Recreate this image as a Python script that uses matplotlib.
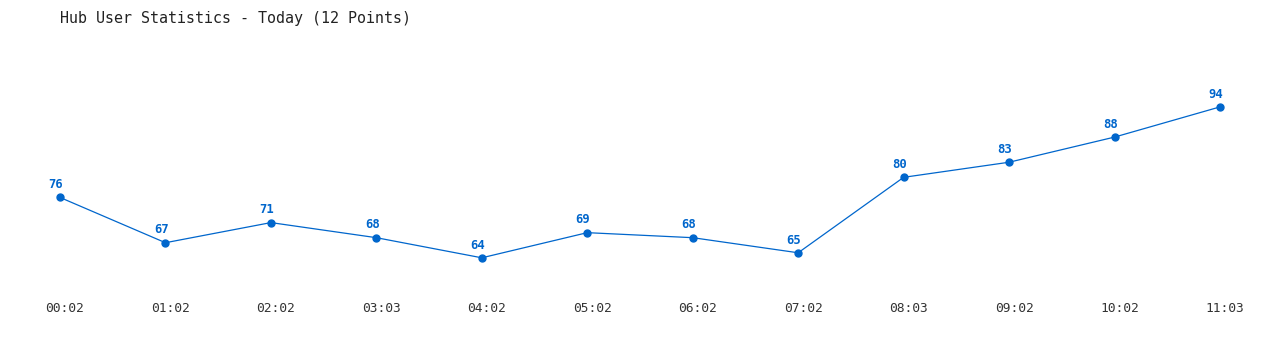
import matplotlib
matplotlib.use("Agg")
import matplotlib.pyplot as plt
import matplotlib.transforms as mtransforms

times = ["00:02", "01:02", "02:02", "03:03", "04:02", "05:02",
         "06:02", "07:02", "08:03", "09:02", "10:02", "11:03"]
users = [76, 67, 71, 68, 64, 69, 68, 65, 80, 83, 88, 94]

W, H = 1280, 350
fig = plt.figure(figsize=(W / 100, H / 100), dpi=100)
ax = fig.add_axes([60 / W, (H - 290) / H, (1220 - 60) / W, 250 / H])

blue = "#0066cc"
x = list(range(len(users)))
ax.plot(x, users, color=blue, linewidth=0.9, marker="o", markersize=5, clip_on=False)
for xi, v in zip(x, users):
    ax.annotate(str(v), (xi, v), xytext=(-3, 4.5), textcoords="offset points",
                ha="center", va="bottom", color=blue, fontsize=8.8,
                fontweight="bold", family="DejaVu Sans Mono")

ax.set_xlim(0, 11)
ax.set_ylim(57.6, 107.3)
ax.set_xticks(x)
ax.set_xticklabels(times, family="DejaVu Sans Mono", fontsize=9.3, color="#333333")
ax.tick_params(axis="x", length=0, pad=9)
ax.set_yticks([])
for s in ax.spines.values():
    s.set_visible(False)
shift = mtransforms.ScaledTranslation(5 / 100, 0, fig.dpi_scale_trans)
for lbl in ax.get_xticklabels():
    lbl.set_transform(lbl.get_transform() + shift)

fig.text(60 / W, (H - 18) / H, "Hub User Statistics - Today (12 Points)",
         family="DejaVu Sans Mono", fontsize=10.8, color="#222222", va="center")

fig.savefig("out.png", dpi=100, facecolor="white")
